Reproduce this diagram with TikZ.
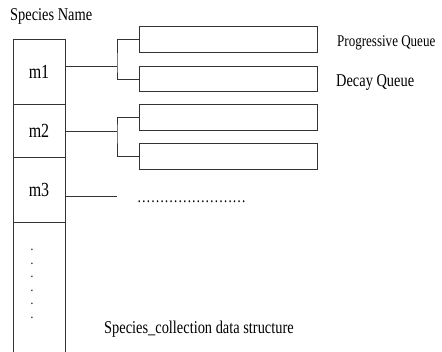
\documentclass[tikz,border=0pt]{standalone}
\usepackage{fontspec}
\setmainfont{Liberation Serif}[FakeStretch=0.8]
\usetikzlibrary{positioning}
\definecolor{ink}{HTML}{333333}
\tikzset{
  cell/.style={rectangle, draw=ink, line width=0.9pt, outer sep=0pt, inner sep=0pt,
    minimum width=52pt, font=\fontsize{20}{22}\selectfont},
  queue/.style={rectangle, draw=ink, line width=0.9pt, outer sep=0pt,
    minimum width=178pt, minimum height=25.5pt},
  txt/.style={font=\fontsize{18}{20}\selectfont, inner sep=0pt},
  dotmark/.style={txt, font=\fontsize{14}{14}\selectfont, text height=2pt, text depth=0pt},
  link/.style={draw=ink, line width=0.9pt},
}
\begin{document}
\begin{tikzpicture}[x=1pt, y=1pt]
\clip (0,0) rectangle (442,351);
\fill[white] (0,0) rectangle (442,351);

% species column
\node[cell, minimum height=65pt] (c1) at (39,279.5) {m1};
\node[cell, minimum height=53pt, below=0pt of c1] (c2) {m2};
\node[cell, minimum height=65pt, below=0pt of c2] (c3) {m3};
\node[cell, minimum height=131pt, below=0pt of c3] (c4) {};
\foreach \i in {0,...,5}
  \node[dotmark] (dot\i) at (32,101-\i*13.4) {.};

% queues of m1 and m2
\node[queue] (p1) at (228,311.5) {};
\node[queue] (d1) at (228,272) {};
\node[queue] (p2) at (228,233.5) {};
\node[queue] (d2) at (228,194.5) {};

\coordinate (b1) at (117,285);
\coordinate (b2) at (117,220);
\coordinate (b3) at (117,155);

\draw[link] (c1.east |- b1) -- (b1);
\draw[link] (p1.west) -| (b1) |- (d1.west);
\draw[link] (c2.east |- b2) -- (b2);
\draw[link] (p2.west) -| (b2) |- (d2.west);
\draw[link] (c3.east |- b3) -- (b3);

% labels
\node[txt, anchor=west] (name) at (10,335) {Species Name};
\node[txt, anchor=west, font=\fontsize{16.3}{18}\selectfont] (plabel) at (337,308) {Progressive Queue};
\node[txt, anchor=west] (dlabel) at (336,269) {Decay Queue};
\node[txt, anchor=base west, font=\fontsize{17}{19}\selectfont] (more) at (137,148.5) {……………………};
\node[txt, anchor=west] (title) at (104,21.5) {Species\_collection data structure};
\end{tikzpicture}
\end{document}
